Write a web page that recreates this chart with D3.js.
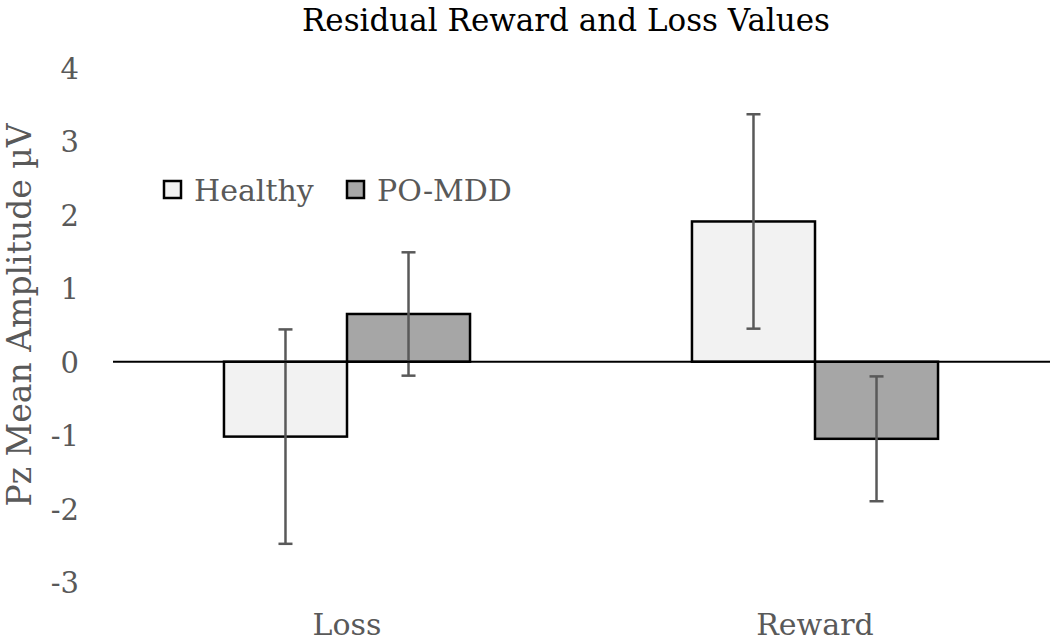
<!DOCTYPE html>
<html><head><meta charset="utf-8">
<script src="https://cdn.jsdelivr.net/npm/d3@7"></script>
<style>body{margin:0;background:#fff}svg{display:block}</style>
</head><body>
<svg id="c" width="1050" height="643"></svg>
<script>
const categories = ["Loss", "Reward"];
const seriesNames = ["Healthy", "PO-MDD"];
const healthyValues = [-1.02, 1.91];
const pomddValues = [0.65, -1.05];
const healthyErrors = [1.46, 1.46];
const pomddErrors = [0.84, 0.85];
const yTicks = [-3, -2, -1, 0, 1, 2, 3, 4];
const seriesColors = ["#f2f2f2", "#a6a6a6"];

const svg = d3.select("#c");
const font = "'DejaVu Serif', serif";
const y = d3.scaleLinear().domain([-3, 4]).range([582, 68]);
const x0 = d3.scaleBand().domain(categories).range([113, 1049]).padding(0);
const x1 = d3.scaleBand().domain(seriesNames).range([0, x0.bandwidth()]).paddingInner(0).paddingOuter(0.902);

const data = categories.map((c, i) => ({
  cat: c,
  vals: [
    {s: seriesNames[0], v: healthyValues[i], e: healthyErrors[i], col: seriesColors[0]},
    {s: seriesNames[1], v: pomddValues[i], e: pomddErrors[i], col: seriesColors[1]}
  ]
}));

// title
svg.append("text").attr("x", 566).attr("y", 31).attr("text-anchor", "middle")
  .attr("font-family", font).attr("font-size", 31).attr("fill", "#000")
  .text("Residual Reward and Loss Values");

// y axis (labels only)
const yAxis = d3.axisLeft(y).tickValues(yTicks).tickSize(0).tickPadding(0)
  .tickFormat(d => String(d).replace("\u2212", "-"));
const gy = svg.append("g").attr("transform", "translate(79,0)").call(yAxis);
gy.select(".domain").remove();
gy.selectAll("text").attr("font-family", font).attr("font-size", 29).attr("fill", "#595959").attr("dy", "0.36em");

svg.append("text").attr("transform", "translate(31,315) rotate(-90)").attr("text-anchor", "middle")
  .attr("font-family", font).attr("font-size", 33).attr("fill", "#595959")
  .text("Pz Mean Amplitude µV");

// bars
const groups = svg.append("g").selectAll("g").data(data).join("g")
  .attr("transform", d => `translate(${x0(d.cat)},0)`);
groups.selectAll("rect").data(d => d.vals).join("rect")
  .attr("x", d => x1(d.s)).attr("width", x1.bandwidth())
  .attr("y", d => y(Math.max(0, d.v))).attr("height", d => Math.abs(y(d.v) - y(0)))
  .attr("fill", d => d.col).attr("stroke", "#000").attr("stroke-width", 2.5);

// zero line
svg.append("line").attr("x1", 113).attr("x2", 1050).attr("y1", y(0)).attr("y2", y(0))
  .attr("stroke", "#000").attr("stroke-width", 2);

// error bars
const eb = groups.selectAll("g.err").data(d => d.vals).join("g").attr("class", "err")
  .attr("stroke", "#595959").attr("stroke-width", 2.5);
eb.append("line").attr("x1", d => x1(d.s) + x1.bandwidth() / 2).attr("x2", d => x1(d.s) + x1.bandwidth() / 2)
  .attr("y1", d => y(d.v + d.e)).attr("y2", d => y(d.v - d.e));
[1, -1].forEach(sgn => {
  eb.append("line").attr("x1", d => x1(d.s) + x1.bandwidth() / 2 - 7).attr("x2", d => x1(d.s) + x1.bandwidth() / 2 + 7)
    .attr("y1", d => y(d.v + sgn * d.e)).attr("y2", d => y(d.v + sgn * d.e));
});

// category labels
categories.forEach(c => {
  svg.append("text").attr("x", x0(c) + x0.bandwidth() / 2).attr("y", 635).attr("text-anchor", "middle")
    .attr("font-family", font).attr("font-size", 30).attr("fill", "#595959").text(c);
});

// legend
const legX = [164, 347];
seriesNames.forEach((s, i) => {
  svg.append("rect").attr("x", legX[i]).attr("y", 181).attr("width", 17).attr("height", 17)
    .attr("fill", seriesColors[i]).attr("stroke", "#000").attr("stroke-width", 2.5);
  svg.append("text").attr("x", legX[i] + 30).attr("y", 201)
    .attr("font-family", font).attr("font-size", 30).attr("fill", "#595959")
    .text(s);
});
</script>
</body></html>
